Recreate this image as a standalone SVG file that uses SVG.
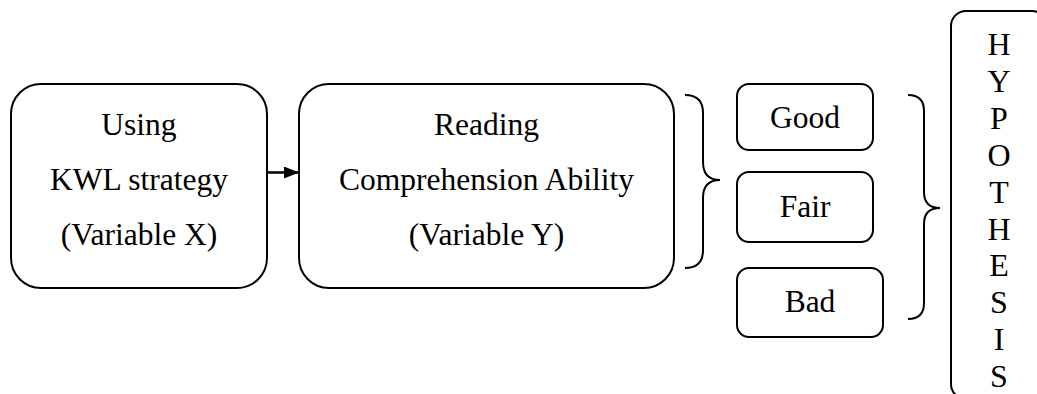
<svg xmlns="http://www.w3.org/2000/svg" width="1037" height="394" viewBox="0 0 1037 394">
<style>
.box{fill:#fff;stroke:#000;stroke-width:2}
.brace{fill:none;stroke:#000;stroke-width:2}
.t{font-family:"Liberation Serif","Times New Roman",serif;font-size:31.5px;fill:#000;text-anchor:middle}
.h{font-family:"Liberation Serif","Times New Roman",serif;font-size:32px;fill:#000;text-anchor:middle}
</style>
<defs>
<marker id="arr" markerWidth="16" markerHeight="12" refX="15" refY="6" orient="auto" markerUnits="userSpaceOnUse">
<path d="M0,0 L15,6 L0,12 Z" fill="#000"/>
</marker>
</defs>
<rect width="1037" height="394" fill="#fff"/>
<g id="connectors">
<line x1="267" y1="172.5" x2="299" y2="172.5" stroke="#000" stroke-width="2.5" marker-end="url(#arr)"/>
<path class="brace" d="M685,95 Q703,95 703,113 L703,162 Q703,180 720,180 Q703,180 703,198 L703,250 Q703,268 685,268"/>
<path class="brace" d="M908,95 Q924,95 924,111 L924,192 Q924,208 940,208 Q924,208 924,224 L924,303 Q924,319 908,319"/>
</g>
<g id="node-x">
<rect class="box" x="11" y="84" width="256" height="204" rx="30"/>
<text class="t" x="139" y="135">Using</text>
<text class="t" x="139" y="190">KWL strategy</text>
<text class="t" x="139" y="245">(Variable X)</text>
</g>
<g id="node-y">
<rect class="box" x="299" y="84" width="375" height="204" rx="30"/>
<text class="t" x="486.5" y="135">Reading</text>
<text class="t" x="486.5" y="190">Comprehension Ability</text>
<text class="t" x="486.5" y="245">(Variable Y)</text>
</g>
<g id="node-good">
<rect class="box" x="737" y="84" width="136" height="66" rx="12"/>
<text class="t" x="805" y="128">Good</text>
</g>
<g id="node-fair">
<rect class="box" x="737" y="172" width="136" height="70" rx="12"/>
<text class="t" x="805" y="217">Fair</text>
</g>
<g id="node-bad">
<rect class="box" x="737" y="268" width="146" height="69" rx="12"/>
<text class="t" x="810" y="312">Bad</text>
</g>
<g id="node-hypothesis">
<rect class="box" x="951" y="11" width="96" height="388" rx="15"/>
<text class="h" x="999" y="55">H</text>
<text class="h" x="999" y="92">Y</text>
<text class="h" x="999" y="129">P</text>
<text class="h" x="999" y="166">O</text>
<text class="h" x="999" y="203">T</text>
<text class="h" x="999" y="240">H</text>
<text class="h" x="999" y="276">E</text>
<text class="h" x="999" y="313">S</text>
<text class="h" x="999" y="350">I</text>
<text class="h" x="999" y="387">S</text>
</g>
</svg>
